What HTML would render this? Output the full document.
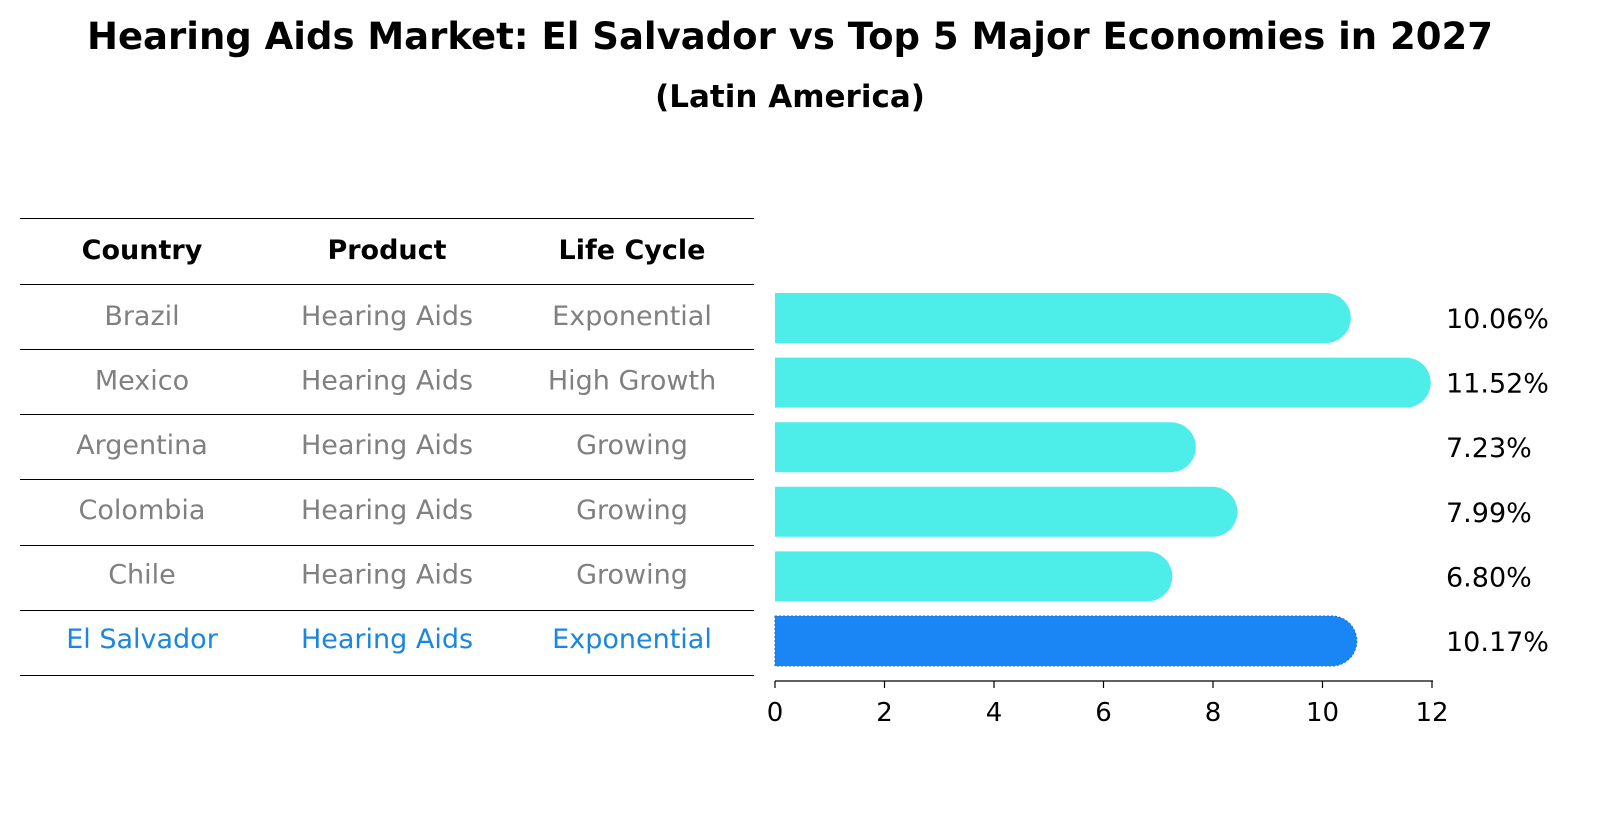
<!DOCTYPE html>
<html><head><meta charset="utf-8"><style>
body{margin:0;background:#fff;font-family:"Liberation Sans","DejaVu Sans",sans-serif;}
svg text{font-family:"DejaVu Sans","Liberation Sans",sans-serif;}
</style></head><body>
<svg id="chart" width="1604" height="823" xmlns="http://www.w3.org/2000/svg">
<text x="790" y="49" text-anchor="middle" font-size="37" font-weight="bold">Hearing Aids Market: El Salvador vs Top 5 Major Economies in 2027</text>
<text x="790" y="107" text-anchor="middle" font-size="31" font-weight="bold">(Latin America)</text>
<g id="table"></g>
<g id="bars"></g>
<g id="axis"></g>
</svg>
<script>
const countries=["Brazil","Mexico","Argentina","Colombia","Chile","El Salvador"];
const products=["Hearing Aids","Hearing Aids","Hearing Aids","Hearing Aids","Hearing Aids","Hearing Aids"];
const lifeCycles=["Exponential","High Growth","Growing","Growing","Growing","Exponential"];
const values=[10.06,11.52,7.23,7.99,6.80,10.17];
const valueLabels=["10.06%","11.52%","7.23%","7.99%","6.80%","10.17%"];
const ticks=[0,2,4,6,8,10,12];
const NS="http://www.w3.org/2000/svg";
const x0=775,scale=54.75;
const xs=v=>x0+v*scale;
const rowY=i=>316+i*64.6;
function mk(tag,attrs,parent){const e=document.createElementNS(NS,tag);for(const k in attrs)e.setAttribute(k,attrs[k]);parent.appendChild(e);return e;}
const table=document.getElementById('table');
const lineYs=[218,284,349,414,479,545,610,675];
lineYs.forEach(y=>{const l=mk('line',{x1:20,x2:754,y1:y+0.5,y2:y+0.5,stroke:'#000','stroke-width':1},table);

});
const cx=[142,387,632];
["Country","Product","Life Cycle"].forEach((h,j)=>{const t=mk('text',{x:cx[j],y:259,'text-anchor':'middle','font-size':27,'font-weight':'bold'},table);t.textContent=h;

});
countries.forEach((c,i)=>{const col=i===5?'#1a86e0':'#808080';
[c,products[i],lifeCycles[i]].forEach((s,j)=>{const t=mk('text',{x:cx[j],y:rowY(i)+9,'text-anchor':'middle','font-size':27,fill:col},table);t.textContent=s;

});});
const bars=document.getElementById('bars');
values.forEach((v,i)=>{const y=rowY(i)+2,h=50,r=25;const xe=xs(v);
const fill=i===5?'#1a86f5':'#4deeea';
const p=mk('path',{d:`M${x0},${y-h/2} H${xe} A${r},${r} 0 0 1 ${xe},${y+h/2} H${x0} Z`,fill:fill},bars);
if(i===5){p.setAttribute('stroke','#1a6fe0');p.setAttribute('stroke-dasharray','2,2');}


const t=mk('text',{x:1446,y:y+10,'font-size':27},bars);t.textContent=valueLabels[i];

});
const axis=document.getElementById('axis');
mk('line',{x1:x0,x2:1433,y1:681,y2:681,stroke:'#000','stroke-width':1.2},axis);
ticks.forEach(t=>{mk('line',{x1:xs(t),x2:xs(t),y1:681,y2:688,stroke:'#000','stroke-width':1.2},axis);
const tx=mk('text',{x:xs(t),y:721,'text-anchor':'middle','font-size':26},axis);tx.textContent=t;

});
</script>
</body></html>
